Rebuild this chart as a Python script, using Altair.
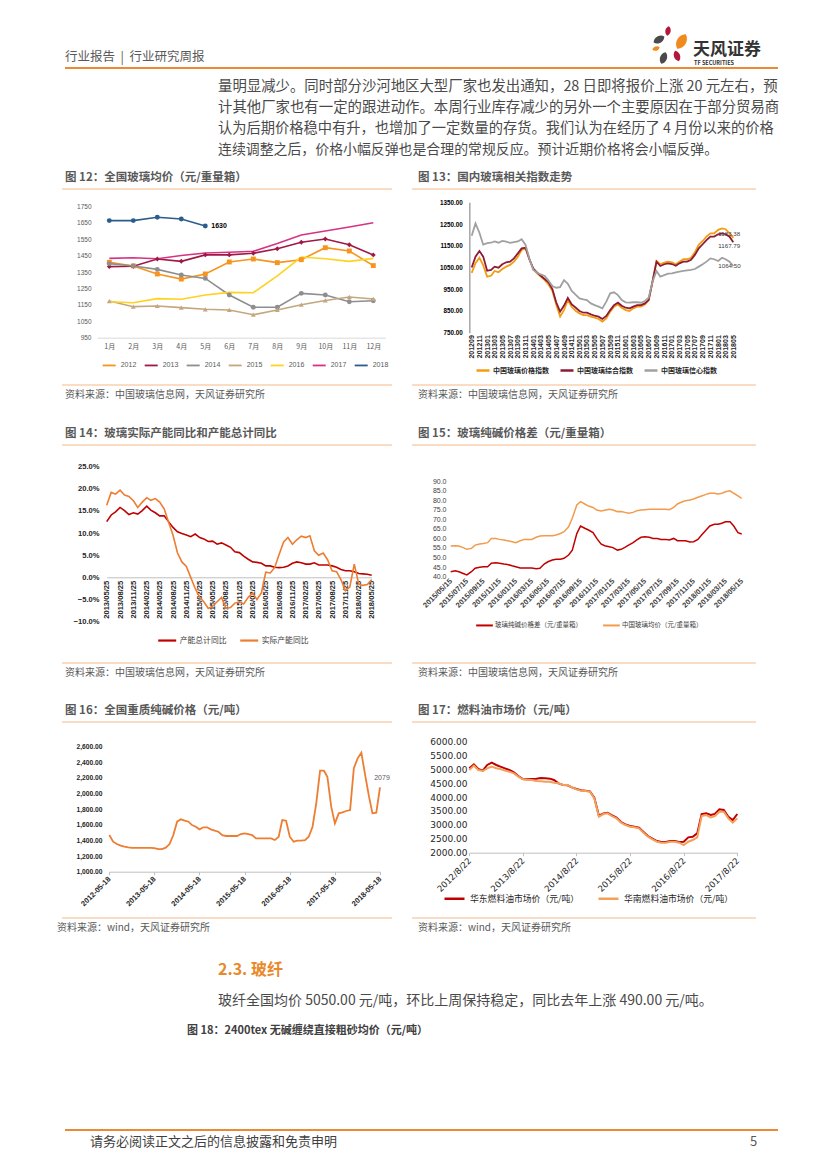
import altair as alt
import pandas as pd

W, H, M = 811, 1153, 8
CJK = "Noto Sans CJK SC"
SANS = "Liberation Sans"
DV = "DejaVu Sans"
AX = dict(title=None, labelOverlap=False, grid=False, labelBound=False, labelFlush=False)


def px(v):
    return v - M


def ax_left(x_page):
    return -px(x_page)


def ax_bottom(y_page):
    return px(y_page) - H


def dt(y, m, d):
    return alt.DateTime(year=y, month=m, date=d)


# ---------------- Chart 12 : 全国玻璃均价 ----------------
MONTHS12 = ["1月", "2月", "3月", "4月", "5月", "6月", "7月", "8月", "9月", "10月", "11月", "12月"]
YEARS12 = ["2012", "2013", "2014", "2015", "2016", "2017", "2018"]
P2012 = [1409, 1387, 1338, 1307, 1338, 1411, 1429, 1407, 1425, 1498, 1478, 1389]
P2013 = [1383, 1385, 1429, 1415, 1454, 1454, 1464, 1492, 1531, 1551, 1516, 1454]
P2014 = [1401, 1387, 1366, 1332, 1311, 1210, 1135, 1135, 1220, 1210, 1169, 1175]
P2015 = [1173, 1139, 1143, 1133, 1123, 1119, 1090, 1119, 1151, 1177, 1198, 1186]
P2016 = [1169, 1163, 1188, 1184, 1210, 1226, 1224, 1326, 1441, 1431, 1415, 1433]
P2017 = [1433, 1437, 1431, 1450, 1466, 1470, 1476, 1523, 1575, 1600, 1624, 1650]
P2018 = [1663, 1663, 1683, 1673, 1630]
COLORS12 = ["#F7941D", "#A01844", "#8E8E8E", "#C4A67F", "#FFD21F", "#D63384", "#2B5D8C"]
MARKED12 = ["2012", "2013", "2014", "2015", "2018"]
SHAPES12 = ["square", "diamond", "circle", "triangle-up", "circle"]

# ---------------- Chart 13 : 国内玻璃相关指数走势 ----------------
SERIES13 = ["中国玻璃价格指数", "中国玻璃综合指数", "中国玻璃信心指数"]
COLORS13 = ["#F39C12", "#8E1A35", "#A0A0A0"]
PRICE13 = [1025, 1070, 1095, 1060,
           1008, 1012, 1034, 1028, 1043, 1054, 1062, 1077, 1100, 1131, 1138, 1088,
           1043, 1023, 1008, 992, 972, 942, 880, 824, 855, 900, 868, 851,
           839, 831, 831, 824, 819, 813, 801, 816, 847, 870, 880, 865,
           854, 850, 862, 870, 870, 880, 900, 985, 1080, 1065, 1072, 1077,
           1074, 1065, 1077, 1088, 1088, 1095, 1120, 1154, 1172, 1192, 1207, 1207,
           1223, 1230, 1226, 1207, 1186]
COMP13 = [1050, 1100, 1126, 1100,
          1035, 1039, 1054, 1049, 1065, 1074, 1077, 1092, 1115, 1138, 1141, 1088,
          1045, 1026, 1012, 997, 982, 951, 890, 847, 875, 910, 880, 866,
          850, 842, 842, 834, 828, 824, 813, 827, 854, 877, 888, 874,
          865, 862, 870, 877, 877, 885, 900, 988, 1077, 1057, 1065, 1069,
          1066, 1058, 1069, 1077, 1077, 1085, 1108, 1138, 1157, 1176, 1192, 1192,
          1203, 1207, 1203, 1192, 1166]
CONF13 = [1196, 1253, 1210, 1155,
          1162, 1164, 1170, 1164, 1172, 1169, 1163, 1167, 1170, 1180, 1154, 1090,
          1039, 1026, 1018, 1011, 990, 965, 957, 960, 992, 975, 942, 925,
          908, 903, 900, 885, 877, 870, 862, 893, 931, 936, 923, 900,
          890, 888, 890, 890, 888, 896, 911, 985, 1034, 1008, 1015, 1022,
          1023, 1028, 1031, 1034, 1037, 1039, 1043, 1054, 1065, 1077, 1092, 1088,
          1080, 1095, 1088, 1077, 1056]
END13 = ["1183.38", "1167.79", "1064.50"]
TICKS13 = [(2012, 9), (2012, 11)] + [(y, m) for y in range(2013, 2018) for m in (1, 3, 5, 7, 9, 11)] + [(2018, 1), (2018, 3), (2018, 5)]

# ---------------- Chart 14 : 玻璃实际产能同比和产能总计同比 ----------------
SERIES14 = ["产能总计同比", "实际产能同比"]
COLORS14 = ["#C00000", "#ED7D31"]
TOTAL14 = [12.6, 14.1, 14.8, 15.8, 15.1, 14.2, 14.6, 14.3, 15.1, 16.1, 15.2, 14.6, 13.9, 13.9, 12.6,
           11.3, 10.3, 9.9, 9.6, 9.2, 9.8, 9.0, 8.7, 8.1, 8.2, 7.5, 7.8, 7.3, 6.8, 5.8, 5.6,
           4.8, 4.1, 3.5, 3.4, 3.2, 2.6, 2.6, 2.3, 2.2, 2.3, 2.6, 3.2, 3.5, 3.3, 3.0, 3.0,
           3.3, 2.8, 2.8, 2.8, 2.6, 2.3, 1.8, 1.5, 1.5, 1.3, 0.9, 0.8, 0.7, 0.5]
ACTUAL14 = [16.3, 19.2, 18.8, 19.7, 18.6, 18.3, 17.3, 15.8, 17.0, 18.0, 17.4, 17.8, 17.0, 15.5, 12.5,
            9.5, 5.5, 3.5, 2.5, 0.0, -2.5, -4.5, -5.5, -7.0, -6.5, -5.5, -4.5, -7.0, -6.8, -5.8, -5.5,
            -6.0, -4.5, -3.5, -5.0, -3.5, 1.2, 1.0, 2.2, 5.2, 8.0, 9.0, 7.5, 8.5, 9.3, 9.0, 9.4,
            6.0, 5.0, 5.5, 4.0, 1.5, 1.3, -0.5, -3.0, -2.2, 3.0, -1.5, -1.8, -1.6, -0.5]
TICKS14 = [(2013, 5), (2013, 8), (2013, 11)] + [(y, m) for y in range(2014, 2018) for m in (2, 5, 8, 11)] + [(2018, 2), (2018, 5)]

# ---------------- Chart 15 : 玻璃纯碱价格差 ----------------
SERIES15 = ["玻璃纯碱价格差（元/重量箱）", "中国玻璃均价（元/重量箱）"]
COLORS15 = ["#C00000", "#F39B4C"]
SPREAD15 = [42.6, 43.1, 42.6, 41.7, 40.9, 42.6, 44.4, 44.9, 45.2, 45.2, 47.0, 47.3, 47.0, 46.6, 46.4,
            45.7, 45.2, 44.5, 44.5, 44.5, 44.5, 44.2, 44.4, 46.6, 47.8, 48.7, 49.1, 49.1, 49.6, 51.3,
            53.9, 62.5, 66.5, 65.3, 64.4, 63.0, 60.0, 57.1, 56.2, 55.7, 55.2, 53.9, 54.3, 55.3, 56.5,
            57.8, 59.2, 60.6, 60.9, 60.6, 60.0, 59.9, 59.5, 59.5, 59.2, 60.0, 58.8, 58.8, 58.8, 58.1,
            58.3, 59.5, 61.8, 64.4, 66.5, 67.4, 67.4, 67.9, 68.7, 68.7, 66.5, 63.0, 62.3]
GLASS15 = [56.0, 56.2, 56.0, 55.2, 54.3, 54.8, 56.5, 57.1, 57.4, 57.8, 60.0, 60.0, 59.5, 59.2, 58.8,
           58.3, 57.8, 58.8, 59.5, 59.5, 59.5, 60.6, 61.3, 61.4, 61.4, 61.4, 61.8, 62.6, 63.5, 66.1,
           70.5, 77.5, 79.2, 78.0, 76.9, 76.2, 74.8, 74.3, 74.7, 75.2, 74.8, 74.0, 74.1, 73.6, 73.1,
           73.6, 74.5, 74.8, 75.0, 75.2, 75.2, 75.2, 75.2, 75.2, 75.0, 76.2, 78.0, 79.0, 79.7, 80.1,
           80.6, 81.5, 82.2, 83.0, 83.6, 83.6, 83.2, 83.6, 84.4, 84.9, 83.6, 82.2, 80.9]
TICKS15 = [(2015, 5), (2015, 7), (2015, 9), (2015, 11)] + [(y, m) for y in (2016, 2017) for m in (1, 3, 5, 7, 9, 11)] + [(2018, 1), (2018, 3), (2018, 5)]

# ---------------- Chart 16 : 全国重质纯碱价格 ----------------
SODA16 = [1469, 1384, 1354, 1333, 1320, 1312, 1305, 1305, 1305, 1305, 1305, 1305, 1303, 1290, 1290,
          1307, 1354, 1469, 1640, 1670, 1653, 1640, 1597, 1576, 1542, 1568, 1568, 1542, 1525, 1512,
          1469, 1457, 1457, 1457, 1457, 1482, 1491, 1482, 1469, 1427, 1427, 1427, 1427, 1427, 1405,
          1448, 1661, 1653, 1448, 1384, 1397, 1397, 1405, 1448, 1576, 1875, 2293, 2293, 2216, 1832,
          1619, 1747, 1760, 1777, 1789, 2323, 2451, 2523, 2237, 1960, 1747, 1755, 2079]
END16 = "2079"
TICKS16 = [(y, 5) for y in range(2012, 2019)]

# ---------------- Chart 17 : 燃料油市场价 ----------------
SERIES17 = ["华东燃料油市场价（元/吨）", "华南燃料油市场价（元/吨）"]
COLORS17 = ["#C00000", "#F2A05A"]
EAST17 = [5030, 5174, 5006, 4946, 5150, 5234, 5150, 5090, 5030, 4970, 4886, 4755, 4647, 4635, 4647,
          4659, 4683, 4671, 4659, 4611, 4491, 4431, 4419, 4347, 4287, 4240, 4228, 4204, 3976, 3329,
          3413, 3437, 3341, 3257, 3102, 3018, 2958, 2934, 2898, 2743, 2599, 2503, 2419, 2383, 2383,
          2419, 2419, 2383, 2395, 2551, 2575, 2694, 3389, 3413, 3353, 3389, 3557, 3533, 3293, 3173, 3389]
SOUTH17 = [4970, 5126, 4970, 4934, 5030, 5090, 5030, 5006, 4946, 4910, 4850, 4731, 4635, 4611, 4611,
           4575, 4563, 4551, 4551, 4515, 4491, 4431, 4431, 4347, 4275, 4228, 4216, 4192, 3952, 3293,
           3389, 3413, 3317, 3233, 3078, 2994, 2934, 2910, 2874, 2719, 2575, 2479, 2395, 2359, 2359,
           2395, 2395, 2359, 2275, 2395, 2455, 2551, 3317, 3353, 3269, 3317, 3473, 3473, 3233, 3078, 3233]
TICKS17 = [(y, 8) for y in range(2012, 2018)]

# ---------------- Page text ----------------
BODY = [
    ("量明显减少。同时部分沙河地区大型厂家也发出通知，28 日即将报价上涨 20 元左右，预", 87, 14.4),
    ("计其他厂家也有一定的跟进动作。本周行业库存减少的另外一个主要原因在于部分贸易商", 108, 14.4),
    ("认为后期价格稳中有升，也增加了一定数量的存货。我们认为在经历了 4 月份以来的价格", 129, 14.25),
    ("连续调整之后，价格小幅反弹也是合理的常规反应。预计近期价格将会小幅反弹。", 150, 13.9),
]
TITLES = [
    ("图 12：全国玻璃均价（元/重量箱）", 65, 178),
    ("图 13：国内玻璃相关指数走势", 418, 178),
    ("图 14：玻璃实际产能同比和产能总计同比", 65, 434),
    ("图 15：玻璃纯碱价格差（元/重量箱）", 418, 434),
    ("图 16：全国重质纯碱价格（元/吨）", 65, 711),
    ("图 17：燃料油市场价（元/吨）", 418, 711),
]
SOURCES = [
    ("资料来源：中国玻璃信息网，天风证券研究所", 65, 395),
    ("资料来源：中国玻璃信息网，天风证券研究所", 418, 395),
    ("资料来源：中国玻璃信息网，天风证券研究所", 65, 673),
    ("资料来源：中国玻璃信息网，天风证券研究所", 418, 673),
    ("资料来源：wind，天风证券研究所", 57, 928),
    ("资料来源：wind，天风证券研究所", 418, 928),
]

# ======================================================================
layers = []

# ---- chart 12
rows = []
for yr, vals in zip(YEARS12, [P2012, P2013, P2014, P2015, P2016, P2017, P2018]):
    for m, v in zip(MONTHS12, vals):
        rows.append({"month": m, "year": yr, "value": v})
df12 = pd.DataFrame(rows)
x12 = alt.X("month:N", sort=MONTHS12,
            scale=alt.Scale(type="point", domain=MONTHS12, range=[px(97.3), px(385.3)], padding=0.5),
            axis=alt.Axis(orient="bottom", offset=ax_bottom(337.7), labelAngle=0,
                          labelFont=CJK, labelFontSize=7, labelColor="#595959", ticks=False,
                          domainColor="#D9D9D9", domainWidth=1, labelPadding=5, **AX))
y12 = alt.Y("value:Q", scale=alt.Scale(domain=[950, 1750], range=[px(337.7), px(206.3)], nice=False, zero=False),
            axis=alt.Axis(orient="left", offset=ax_left(97), values=list(range(950, 1751, 100)),
                          format="d", labelFont=SANS, labelFontSize=6.5, labelColor="#595959",
                          ticks=False, domain=False, labelPadding=6, **AX))
line12 = alt.Chart(df12).mark_line(strokeWidth=1.6).encode(
    x=x12, y=y12,
    color=alt.Color("year:N", scale=alt.Scale(domain=YEARS12, range=COLORS12),
                    legend=alt.Legend(orient="none", legendX=px(101.7), legendY=px(364) - 6.5,
                                      direction="horizontal", columns=7, title=None, symbolType="stroke",
                                      symbolSize=169, symbolStrokeWidth=1.8, labelFont=SANS, labelFontSize=7,
                                      labelColor="#595959", labelOffset=4, columnPadding=4, padding=0)))
pts12 = alt.Chart(df12[df12.year.isin(MARKED12)]).mark_point(filled=True, opacity=1, size=24).encode(
    x=x12, y=y12,
    fill=alt.Fill("year:N", scale=alt.Scale(domain=YEARS12, range=COLORS12), legend=None),
    shape=alt.Shape("year:N", scale=alt.Scale(domain=MARKED12, range=SHAPES12), legend=None))
ann12 = alt.Chart(pd.DataFrame({"month": ["5月"], "value": [P2018[-1]], "t": [str(P2018[-1])]})).mark_text(
    align="left", baseline="middle", dx=6, font=SANS, fontSize=7, fontWeight="bold", color="#000000").encode(
    x=x12, y=y12, text="t:N")
layers.append(alt.layer(line12, pts12, ann12))

# ---- chart 13
dates13 = pd.date_range("2012-09-01", "2018-05-01", freq="MS")
df13 = pd.concat([pd.DataFrame({"date": dates13, "series": s, "value": v})
                  for s, v in zip(SERIES13, [PRICE13, COMP13, CONF13])])
x13 = alt.X("date:T", scale=alt.Scale(domain=[dt(2012, 9, 1), dt(2018, 5, 1)], range=[px(471.7), px(733.3)]),
            axis=alt.Axis(orient="bottom", offset=ax_bottom(332.7), values=[dt(y, m, 1) for y, m in TICKS13],
                          format="%Y%m", labelAngle=270, labelAlign="right", labelBaseline="middle",
                          labelFont=SANS, labelFontSize=7, labelFontWeight="bold", labelColor="#262626",
                          ticks=False, domain=False, labelPadding=2, **AX))
y13 = alt.Y("value:Q", scale=alt.Scale(domain=[750, 1350], range=[px(332.7), px(202.3)], nice=False, zero=False),
            axis=alt.Axis(orient="left", offset=ax_left(469.3), values=list(range(750, 1351, 100)),
                          format=".2f", labelFont=SANS, labelFontSize=6.3, labelFontWeight="bold", labelColor="#000000",
                          ticks=False, domain=True, domainColor="#A6A6A6", domainWidth=1.5, labelPadding=7, **AX))
line13 = alt.Chart(df13).mark_line(strokeWidth=1.8).encode(
    x=x13, y=y13,
    color=alt.Color("series:N", sort=SERIES13, scale=alt.Scale(domain=SERIES13, range=COLORS13),
                    legend=alt.Legend(orient="none", legendX=px(475), legendY=px(369) - 6.5,
                                      direction="horizontal", columns=3, title=None, symbolType="stroke",
                                      symbolSize=169, symbolStrokeWidth=2.5, labelFont=CJK, labelFontSize=7,
                                      labelFontWeight="bold", labelColor="#262626", labelOffset=2,
                                      columnPadding=6, padding=0)))
ends13 = [PRICE13[-1], COMP13[-1], CONF13[-1]]
ann13 = []
for lab, val, off in zip(END13, ends13, [-4, 4, 0]):
    ann13.append(alt.Chart(pd.DataFrame({"date": [dates13[-1]], "value": [val], "t": [lab]})).mark_text(
        align="left", baseline="middle", dx=-15, dy=off, font=SANS, fontSize=6.2, color="#404040").encode(
        x=x13, y=y13, text="t:N"))
layers.append(alt.layer(line13, *ann13))

# ---- chart 14
dates14 = pd.date_range("2013-05-25", periods=len(TOTAL14), freq=pd.DateOffset(months=1))
df14 = pd.concat([pd.DataFrame({"date": dates14, "series": s, "value": [v / 100 for v in vals]})
                  for s, vals in zip(SERIES14, [TOTAL14, ACTUAL14])])
x14 = alt.X("date:T", scale=alt.Scale(domain=[dt(2013, 5, 25), dt(2018, 5, 25)], range=[px(106.7), px(371.7)]),
            axis=alt.Axis(orient="bottom", offset=ax_bottom(577.3), values=[dt(y, m, 25) for y, m in TICKS14],
                          format="%Y/%m/%d", labelAngle=270, labelAlign="right", labelBaseline="middle",
                          labelFont=SANS, labelFontSize=7.6, labelFontWeight="bold", labelColor="#262626",
                          ticks=False, domain=True, domainColor="#BFBFBF", labelPadding=3, **AX))
y14 = alt.Y("value:Q", scale=alt.Scale(domain=[-0.10, 0.25], range=[px(621.7), px(466.7)], nice=False, zero=False),
            axis=alt.Axis(orient="left", offset=ax_left(104),
                          values=[-0.10, -0.05, 0.0, 0.05, 0.10, 0.15, 0.20, 0.25],
                          format=".1%", labelFont=SANS, labelFontSize=7.6, labelFontWeight="bold", labelColor="#262626",
                          ticks=False, domain=False, labelPadding=5, **AX))
line14 = alt.Chart(df14).mark_line(strokeWidth=1.6).encode(
    x=x14, y=y14,
    color=alt.Color("series:N", sort=SERIES14, scale=alt.Scale(domain=SERIES14, range=COLORS14),
                    legend=alt.Legend(orient="none", legendX=px(156.7), legendY=px(639) - 9,
                                      direction="horizontal", columns=2, title=None, symbolType="stroke",
                                      symbolSize=324, symbolStrokeWidth=2.2, labelFont=CJK, labelFontSize=7.8,
                                      labelColor="#404040", labelOffset=2, columnPadding=9, padding=0)))
layers.append(line14)

# ---- chart 15
dates15 = pd.date_range("2015-05-15", "2018-05-15", freq="SMS")
df15 = pd.concat([pd.DataFrame({"date": dates15, "series": s, "value": v})
                  for s, v in zip(SERIES15, [SPREAD15, GLASS15])])
x15 = alt.X("date:T", scale=alt.Scale(domain=[dt(2015, 5, 15), dt(2018, 5, 15)], range=[px(450.7), px(741.7)]),
            axis=alt.Axis(orient="bottom", offset=ax_bottom(576.7), values=[dt(y, m, 15) for y, m in TICKS15],
                          format="%Y/%m/%d", labelAngle=315, labelAlign="right", labelBaseline="middle",
                          labelFont=SANS, labelFontSize=7.5, labelFontWeight="bold", labelColor="#404040",
                          ticks=False, domain=False, labelPadding=3, **AX))
y15 = alt.Y("value:Q", scale=alt.Scale(domain=[40, 90], range=[px(576.7), px(481)], nice=False, zero=False),
            axis=alt.Axis(orient="left", offset=ax_left(450), values=list(range(40, 91, 5)),
                          format=".1f", labelFont=SANS, labelFontSize=7, labelColor="#404040",
                          ticks=False, domain=False, labelPadding=4, **AX))
line15 = alt.Chart(df15).mark_line(strokeWidth=1.5).encode(
    x=x15, y=y15,
    color=alt.Color("series:N", sort=SERIES15, scale=alt.Scale(domain=SERIES15, range=COLORS15),
                    legend=alt.Legend(orient="none", legendX=px(475), legendY=px(624) - 8.3,
                                      direction="horizontal", columns=2, title=None, symbolType="stroke",
                                      symbolSize=279, symbolStrokeWidth=2, labelFont=CJK, labelFontSize=6.5,
                                      labelColor="#404040", labelOffset=1, columnPadding=16, padding=0)))
layers.append(line15)

# ---- chart 16
dates16 = pd.date_range("2012-05-18", periods=len(SODA16), freq=pd.DateOffset(months=1))
df16 = pd.DataFrame({"date": dates16, "value": SODA16})
x16 = alt.X("date:T", scale=alt.Scale(domain=[dt(2012, 5, 18), dt(2018, 5, 18)], range=[px(109.3), px(380)]),
            axis=alt.Axis(orient="bottom", offset=ax_bottom(871.7), values=[dt(y, m, 18) for y, m in TICKS16],
                          format="%Y-%m-%d", labelAngle=315, labelAlign="right", labelBaseline="middle",
                          labelFont=SANS, labelFontSize=7.5, labelFontWeight="bold", labelColor="#262626",
                          ticks=True, tickSize=3, tickColor="#BFBFBF", domain=True, domainColor="#BFBFBF",
                          labelPadding=3, **AX))
y16 = alt.Y("value:Q", scale=alt.Scale(domain=[1000, 2600], range=[px(871.7), px(746.7)], nice=False, zero=False),
            axis=alt.Axis(orient="left", offset=ax_left(106), values=list(range(1000, 2601, 200)),
                          format=",.2f", labelFont=SANS, labelFontSize=6.7, labelFontWeight="bold", labelColor="#262626",
                          ticks=False, domain=False, labelPadding=4, **AX))
line16 = alt.Chart(df16).mark_line(strokeWidth=1.8, color="#ED7D31").encode(x=x16, y=y16)
ann16 = alt.Chart(pd.DataFrame({"date": [dates16[-1]], "value": [SODA16[-1]], "t": [END16]})).mark_text(
    align="center", baseline="middle", dx=2, dy=-9, font=SANS, fontSize=7, color="#595959").encode(
    x=x16, y=y16, text="t:N")
layers.append(alt.layer(line16, ann16))

# ---- chart 17
dates17 = pd.date_range("2012-08-22", periods=len(EAST17), freq=pd.DateOffset(months=1))
df17 = pd.concat([pd.DataFrame({"date": dates17, "series": s, "value": v})
                  for s, v in zip(SERIES17, [EAST17, SOUTH17])])
x17 = alt.X("date:T", scale=alt.Scale(domain=[dt(2012, 8, 22), dt(2017, 8, 22)], range=[px(469.3), px(737.3)]),
            axis=alt.Axis(orient="bottom", offset=ax_bottom(852.7), values=[dt(y, m, 22) for y, m in TICKS17],
                          format="%Y/%-m/%d", labelAngle=315, labelAlign="right", labelBaseline="middle",
                          labelFont=DV, labelFontSize=8.6, labelColor="#262626",
                          ticks=True, tickSize=3, tickColor="#BFBFBF", domain=True, domainColor="#BFBFBF",
                          labelPadding=3, **AX))
y17 = alt.Y("value:Q", scale=alt.Scale(domain=[2000, 6000], range=[px(852.7), px(741.3)], nice=False, zero=False),
            axis=alt.Axis(orient="left", offset=ax_left(470), values=list(range(2000, 6001, 500)),
                          format=".2f", labelFont=DV, labelFontSize=9, labelColor="#262626",
                          ticks=False, domain=False, labelPadding=3, **AX))
line17 = alt.Chart(df17).mark_line(strokeWidth=2).encode(
    x=x17, y=y17,
    color=alt.Color("series:N", sort=SERIES17, scale=alt.Scale(domain=SERIES17, range=COLORS17),
                    legend=alt.Legend(orient="none", legendX=px(443), legendY=px(897) - 10,
                                      direction="horizontal", columns=2, title=None, symbolType="stroke",
                                      symbolSize=400, symbolStrokeWidth=2.5, labelFont=CJK, labelFontSize=8.8,
                                      labelColor="#262626", labelOffset=4, columnPadding=13, padding=0)))
layers.append(line17)

# ---- page decoration: rules
rules = [
    (65, 778, 68, "#EB8A35", 2),
    (62, 392, 189, "#F6B889", 1.2), (412, 756, 189, "#F6B889", 1.2),
    (62, 392, 385, "#F6B889", 1.2), (412, 756, 385, "#F6B889", 1.2),
    (62, 392, 445, "#F6B889", 1.2), (412, 756, 445, "#F6B889", 1.2),
    (62, 392, 663, "#F6B889", 1.2), (412, 756, 663, "#F6B889", 1.2),
    (62, 392, 722, "#F6B889", 1.2), (412, 756, 722, "#F6B889", 1.2),
    (62, 392, 918, "#F6B889", 1.2), (412, 756, 918, "#F6B889", 1.2),
    (65, 778, 1130, "#EB8A35", 2),
]
rdf = pd.DataFrame([{"x": px(a), "x2": px(b), "y": px(y), "c": c, "w": w} for a, b, y, c, w in rules])
layers.append(alt.Chart(rdf).mark_rule().encode(
    x=alt.X("x:Q", scale=None, axis=None), x2="x2:Q", y=alt.Y("y:Q", scale=None, axis=None),
    color=alt.Color("c:N", scale=None, legend=None), strokeWidth=alt.StrokeWidth("w:Q", scale=None, legend=None)))

# ---- logo petals
LEAF = "M0,-1C0.75,-0.6 0.75,0.6 0,1C-0.75,0.6 -0.75,-0.6 0,-1Z"
petals = [
    (668, 31, 90, "#B5173A", 10), (681.5, 41.5, 280, "#F08A1C", 30),
    (659, 39.5, 150, "#4A4A4A", 60), (656, 48.5, 60, "#F08A1C", 70),
    (663.5, 58, 150, "#4A4A4A", 20), (677, 56, 120, "#B5173A", 340),
]
pdf = pd.DataFrame([{"x": px(x), "y": px(y), "s": s, "c": c, "a": a} for x, y, s, c, a in petals])
layers.append(alt.Chart(pdf).mark_point(filled=True, opacity=1, shape=LEAF).encode(
    x=alt.X("x:Q", scale=None, axis=None), y=alt.Y("y:Q", scale=None, axis=None),
    size=alt.Size("s:Q", scale=None, legend=None), color=alt.Color("c:N", scale=None, legend=None),
    angle=alt.Angle("a:Q", scale=None)))

# ---- page text
normal = [("行业报告\u00a0\u00a0|\u00a0\u00a0行业研究周报", 65, 57, 12.5, "#595959")]
normal += [(t, 218, y, s, "#4A4A4A") for t, y, s in BODY]
normal += [(t, x, y, 10, "#595959") for t, x, y in SOURCES]
normal += [("玻纤全国均价 5050.00 元/吨，环比上周保持稳定，同比去年上涨 490.00 元/吨。", 218, 1001, 14, "#4A4A4A"),
           ("请务必阅读正文之后的信息披露和免责申明", 90, 1142, 13, "#404040"),
           ("5", 750, 1142, 13, "#595959")]
bold = [(t, x, y, 11.5, "#595959") for t, x, y in TITLES]
bold += [("2.3. 玻纤", 218, 970, 16, "#E8892B"),
         ("图 18：2400tex 无碱缠绕直接粗砂均价（元/吨）", 187, 1031, 11, "#404040"),
         ("天风证券", 693, 49.5, 17, "#333333"),
         ("TF SECURITIES", 694, 62.5, 5.5, "#333333")]


def text_layer(items, weight):
    d = pd.DataFrame([{"t": t, "x": px(x), "y": px(y), "s": s, "c": c} for t, x, y, s, c in items])
    return alt.Chart(d).mark_text(align="left", baseline="middle", font=CJK, fontWeight=weight).encode(
        x=alt.X("x:Q", scale=None, axis=None), y=alt.Y("y:Q", scale=None, axis=None), text="t:N",
        size=alt.Size("s:Q", scale=None, legend=None), color=alt.Color("c:N", scale=None, legend=None))


layers.append(text_layer(normal, "normal"))
layers.append(text_layer(bold, "bold"))

chart = alt.layer(*layers).resolve_scale(
    x="independent", y="independent", color="independent", fill="independent", shape="independent"
).properties(
    width=W, height=H, padding=0, autosize=alt.AutoSizeParams(type="none"), background="white"
).configure_view(stroke=None).configure_axis(grid=False, labelOverlap=False)

chart.save("out.html", embed_options={"renderer": "svg", "actions": False})
